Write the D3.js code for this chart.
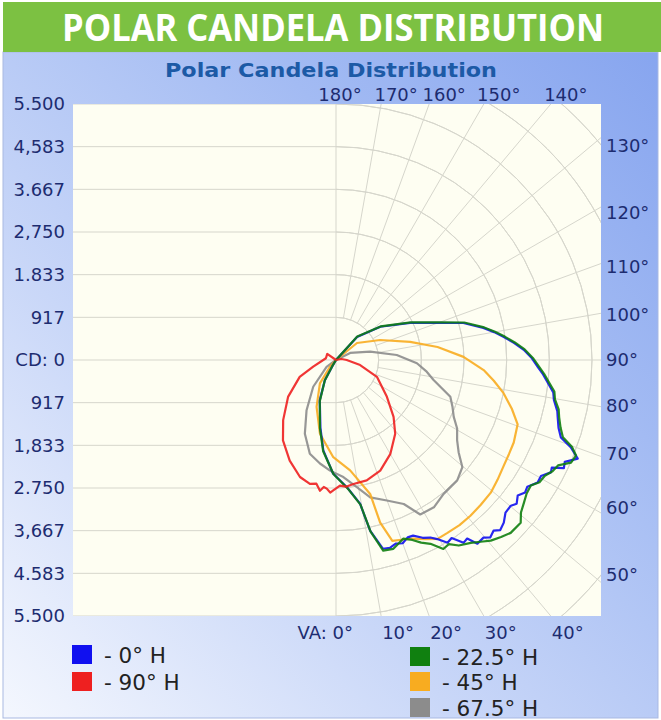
<!DOCTYPE html>
<html>
<head>
<meta charset="utf-8">
<script src="https://cdn.jsdelivr.net/npm/d3@7/dist/d3.min.js"></script>
<style>
  body { margin: 0; background: #fff; }
  svg { display: block; }
</style>
</head>
<body>
<div id="chart"></div>
<script>
// candela tick labels, top to bottom (as printed on the chart)
const cdTickLabels = ['5.500', '4,583', '3.667', '2,750', '1.833', '917', 'CD: 0',
  '917', '1,833', '2.750', '3,667', '4.583', '5.500'];
const cdMax = 5500;
const cdStep = 917;

// vertical angle ticks, 0 = straight down, 180 = straight up
const vaTicks = [0, 10, 20, 30, 40, 50, 60, 70, 80, 90, 100, 110, 120, 130, 140, 150, 160, 170, 180];
const vaTickLabels = ['VA: 0°', '10°', '20°', '30°', '40°', '50°', '60°', '70°', '80°', '90°',
  '100°', '110°', '120°', '130°', '140°', '150°', '160°', '170°', '180°'];

// series: [vertical angle (deg, negative = opposite side), candela]
const h0 = [[-35, 0], [-31, 125], [-29, 490], [-22, 930], [-13, 1490], [-8, 1960], [-1.5, 2440], [5, 2750],
  [9.5, 3130], [11.3, 3740], [14, 4180], [16, 4200], [18, 4150], [20, 4190], [22, 4110], [23.7, 4120],
  [26, 4250], [28, 4320], [29.5, 4420], [31.4, 4600], [33, 4560], [34.9, 4790], [36.3, 4760], [37.6, 4980],
  [39.7, 4960], [41, 5050], [42.7, 4990], [44, 5080], [45.9, 5020], [48, 4900], [50.2, 4890], [51.5, 4960],
  [53.3, 4870], [55, 4960], [56.5, 4930], [58.7, 5070], [60.5, 5060], [62.4, 5210], [63.5, 5180],
  [64.6, 5420], [66, 5380], [67.8, 5610], [69.6, 5380], [71, 5110], [73, 5000], [75.5, 4920], [77, 4880],
  [79.6, 4760], [81.5, 4720], [83.8, 4580], [86, 4460], [88, 4340], [90.5, 4210], [93.1, 4040],
  [95.5, 3840], [97.8, 3640], [100, 3450], [102.3, 3240], [106.2, 2850], [110.1, 2320], [116.6, 1780],
  [126.9, 1190], [137.6, 670], [145, 0]];

const h225 = [[-36, 0], [-31, 140], [-28.5, 510], [-21.5, 950], [-13.2, 1510], [-8, 1980], [-1.3, 2450],
  [5.2, 2770], [9.6, 3150], [11.4, 3760], [13.9, 4220], [16.9, 4240], [19, 4160], [20.6, 4100], [23, 4200],
  [25, 4330], [27.2, 4440], [29.6, 4670], [31.5, 4640], [33.5, 4780], [36.4, 4880], [38.5, 4990],
  [40.6, 5110], [43, 5200], [45.3, 5280], [48.6, 5290], [50.5, 5150], [52.8, 5070], [55, 5000],
  [57.2, 4980], [59, 5100], [61, 5130], [62.8, 5230], [64.6, 5280], [66.4, 5510], [68.3, 5550],
  [69.8, 5400], [71.2, 5150], [73.2, 5040], [75.6, 4950], [77.5, 4900], [79.8, 4780], [81.8, 4740],
  [84, 4600], [86.2, 4480], [88.2, 4360], [90.6, 4230], [93.2, 4060], [95.6, 3860], [97.9, 3660],
  [100.1, 3470], [102.4, 3260], [106.3, 2870], [110.2, 2340], [116.7, 1800], [127, 1200], [137.8, 680],
  [146, 0]];

const h45 = [[-45, 0], [-41.8, 190], [-34.5, 610], [-22.5, 1090], [-12.3, 1620], [-1.6, 2090], [7.3, 2390],
  [14.3, 2970], [15.2, 3620], [17.3, 4070], [20, 4110], [23.4, 4180], [26.5, 4300], [29.6, 4420],
  [32.8, 4420], [36.8, 4430], [40.8, 4420], [45, 4400], [49.4, 4380], [53.5, 4320], [57.8, 4260],
  [61.5, 4230], [65.1, 4210], [70.5, 4140], [74.5, 3920], [78.8, 3670], [82.5, 3420], [86.1, 3180],
  [91.4, 2740], [97.3, 2200], [103.7, 1640], [114.4, 1040], [129, 580], [140, 0]];

const h675 = [[-60, 0], [-54.2, 250], [-40.4, 755], [-30.4, 1250], [-22.9, 1720], [-15.6, 2090],
  [-8.8, 2250], [-3.1, 2380], [3.6, 2520], [9.3, 2770], [14, 3040], [19.9, 3210], [25.2, 3420],
  [28.6, 3780], [33.6, 3800], [38.8, 3690], [45.2, 3670], [49.7, 3560], [53, 3300], [56.5, 3120],
  [60.5, 2990], [64.2, 2810], [68, 2700], [72.2, 2580], [78.4, 2140], [83, 1950], [87.7, 1740],
  [94.7, 1310], [103.7, 755], [116.6, 340], [130, 0]];

const h90 = [[-150, 0], [-125, 230], [-100, 220], [-73.6, 510], [-65.1, 860], [-52.4, 1300], [-41.3, 1720],
  [-33.4, 2070], [-24.7, 2380], [-17.1, 2630], [-11.9, 2720], [-9, 2690], [-7, 2830], [-5.5, 2740],
  [-4.1, 2770], [-2.5, 2850], [-1.2, 2800], [1.8, 2700], [4.5, 2730], [8, 2690], [14.3, 2670],
  [21.8, 2560], [30.1, 2330], [38.8, 2030], [45.3, 1740], [54.1, 1350], [67.7, 950], [78.2, 530],
  [90, 230], [100, 120], [112, 0]];

const seriesNames = ['- 0° H', '- 90° H', '- 22.5° H', '- 45° H', '- 67.5° H'];
const seriesColors = ['#1010f0', '#ee2020', '#108010', '#f8ac20', '#8c8c8c'];
const seriesData = [h0, h90, h225, h45, h675];

const width = 661;
const height = 720;
const plot = { left: 73, right: 601, top: 104, bottom: 616 };
const center = { x: 336, y: 360 };
const radius = 256;

const axisFont = '"DejaVu Sans", Verdana, sans-serif';
const axisColor = '#1d2c70';
const gridColor = '#d6d6cc';

const svg = d3.select('#chart').append('svg')
  .attr('width', width)
  .attr('height', height);

const rScale = d3.scaleLinear().domain([0, cdMax]).range([0, radius]);
const yScale = d3.scaleLinear().domain([cdMax, -cdMax]).range([plot.top, plot.bottom]);

function drawFrame() {
  const defs = svg.append('defs');
  const grad = defs.append('linearGradient')
    .attr('id', 'panelGrad')
    .attr('x1', 0).attr('y1', 1).attr('x2', 1).attr('y2', 0);
  grad.append('stop').attr('offset', 0).attr('stop-color', '#f4f7fe');
  grad.append('stop').attr('offset', 0.35).attr('stop-color', '#c9d7f8');
  grad.append('stop').attr('offset', 0.7).attr('stop-color', '#a3bbf3');
  grad.append('stop').attr('offset', 1).attr('stop-color', '#87a5ef');

  defs.append('clipPath').attr('id', 'plotClip')
    .append('rect')
    .attr('x', plot.left).attr('y', plot.top)
    .attr('width', plot.right - plot.left).attr('height', plot.bottom - plot.top);

  // chart panel
  svg.append('rect')
    .attr('x', 3).attr('y', 52).attr('width', 655).attr('height', 666)
    .attr('fill', 'url(#panelGrad)')
    .attr('stroke', '#a9b9e2');

  // green banner
  svg.append('rect')
    .attr('x', 3).attr('y', 2).attr('width', 658).attr('height', 50)
    .attr('fill', '#7cc142');
  svg.append('text')
    .attr('x', 333).attr('y', 41)
    .attr('text-anchor', 'middle')
    .attr('font-family', '"Open Sans", sans-serif')
    .attr('font-weight', 'bold')
    .attr('font-size', 38)
    .attr('fill', '#fff')
    .attr('textLength', 542)
    .attr('lengthAdjust', 'spacingAndGlyphs')
    .text('POLAR CANDELA DISTRIBUTION');

  // chart title
  svg.append('text')
    .attr('x', 331).attr('y', 77)
    .attr('text-anchor', 'middle')
    .attr('font-family', axisFont)
    .attr('font-weight', 'bold')
    .attr('font-size', 19)
    .attr('fill', '#1c5aa6')
    .attr('textLength', 332)
    .attr('lengthAdjust', 'spacingAndGlyphs')
    .text('Polar Candela Distribution');

  // plot background
  svg.append('rect')
    .attr('x', plot.left).attr('y', plot.top)
    .attr('width', plot.right - plot.left).attr('height', plot.bottom - plot.top)
    .attr('fill', '#fefef2');
}

function drawGrid() {
  const grid = svg.append('g')
    .attr('clip-path', 'url(#plotClip)')
    .attr('stroke', gridColor)
    .attr('fill', 'none');

  const ticks = cdTickLabels.map((d, i) => cdMax - i * cdMax / 6);

  // horizontal lines on the left half
  grid.selectAll('line.h')
    .data(ticks)
    .join('line')
    .attr('class', 'h')
    .attr('x1', plot.left).attr('x2', center.x)
    .attr('y1', (d) => yScale(d)).attr('y2', (d) => yScale(d));

  // concentric arcs on the right half
  const rings = d3.range(1, 9).map((k) => k * cdMax / 6);
  const arc = d3.arc().startAngle(0).endAngle(Math.PI);
  grid.append('g')
    .attr('transform', `translate(${center.x},${center.y})`)
    .selectAll('path')
    .data(rings)
    .join('path')
    .attr('d', (d) => arc({ innerRadius: rScale(d), outerRadius: rScale(d) }));

  // radial lines
  grid.append('g')
    .attr('transform', `translate(${center.x},${center.y})`)
    .selectAll('line')
    .data(vaTicks.filter((d) => d > 0 && d < 180))
    .join('line')
    .attr('x1', (d) => rScale(cdStep) * Math.sin(d * Math.PI / 180))
    .attr('y1', (d) => rScale(cdStep) * Math.cos(d * Math.PI / 180))
    .attr('x2', (d) => 600 * Math.sin(d * Math.PI / 180))
    .attr('y2', (d) => 600 * Math.cos(d * Math.PI / 180));

  // vertical 0/180 line
  grid.append('line')
    .attr('x1', center.x).attr('x2', center.x)
    .attr('y1', plot.top).attr('y2', plot.bottom);
}

function edgePoint(deg) {
  const a = deg * Math.PI / 180;
  const dx = Math.sin(a);
  const dy = Math.cos(a);
  const ts = [];
  if (dx > 1e-6) ts.push({ t: (plot.right - center.x) / dx, side: 'right' });
  if (dy > 1e-6) ts.push({ t: (plot.bottom - center.y) / dy, side: 'bottom' });
  if (dy < -1e-6) ts.push({ t: (plot.top - center.y) / dy, side: 'top' });
  const best = d3.least(ts, (d) => d.t);
  return { x: center.x + dx * best.t, y: center.y + dy * best.t, side: best.side, dx, dy };
}

function drawLabels() {
  // candela labels on the left
  svg.append('g')
    .selectAll('text')
    .data(cdTickLabels)
    .join('text')
    .attr('x', 65)
    .attr('y', (d, i) => yScale(cdMax - i * cdMax / 6))
    .attr('dy', '0.36em')
    .attr('text-anchor', 'end')
    .attr('font-family', axisFont)
    .attr('font-size', 18)
    .attr('fill', axisColor)
    .text((d) => d);

  // angle labels around the plot edge
  const angleLabels = svg.append('g')
    .attr('font-family', axisFont)
    .attr('font-size', 18)
    .attr('fill', axisColor);

  vaTicks.forEach((deg, i) => {
    const p = edgePoint(deg);
    const t = angleLabels.append('text').text(vaTickLabels[i]);
    if (p.side === 'right') {
      // right side labels sit where the ray crosses x = center + radius
      t.attr('x', plot.right + 5)
        .attr('y', center.y + radius * p.dy / p.dx)
        .attr('dy', '0.36em');
    } else if (p.side === 'top') {
      t.attr('x', deg === 180 ? p.x + 4 : p.x + 15).attr('y', plot.top - 3)
        .attr('text-anchor', 'middle');
    } else {
      t.attr('x', deg === 0 ? p.x + 17 : p.x + 1).attr('y', plot.bottom + 23)
        .attr('text-anchor', deg === 0 ? 'end' : 'start');
    }
  });
}

function drawCurves() {
  const line = d3.lineRadial()
    .angle((d) => Math.PI - d[0] * Math.PI / 180)
    .radius((d) => rScale(d[1]));

  const order = [4, 3, 0, 2, 1]; // gray, orange, blue, green, red
  svg.append('g')
    .attr('clip-path', 'url(#plotClip)')
    .append('g')
    .attr('transform', `translate(${center.x},${center.y})`)
    .selectAll('path')
    .data(order)
    .join('path')
    .attr('d', (i) => line(seriesData[i]))
    .attr('fill', 'none')
    .attr('stroke', (i) => seriesColors[i])
    .attr('stroke-width', 2.2)
    .attr('stroke-linejoin', 'round')
    .attr('stroke-opacity', 0.9);
}

function drawLegend() {
  const pos = [[72, 645], [72, 672], [410, 647], [410, 672], [410, 698]];
  const legend = svg.append('g')
    .selectAll('g')
    .data(seriesNames)
    .join('g')
    .attr('transform', (d, i) => `translate(${pos[i][0]},${pos[i][1]})`);

  legend.append('rect')
    .attr('width', 20).attr('height', 19)
    .attr('fill', (d, i) => seriesColors[i]);

  legend.append('text')
    .attr('x', 32).attr('y', 18)
    .attr('font-family', axisFont)
    .attr('font-size', 21.5)
    .attr('fill', '#222')
    .text((d) => d);
}

drawFrame();
drawGrid();
drawLabels();
drawCurves();
drawLegend();
</script>
</body>
</html>
